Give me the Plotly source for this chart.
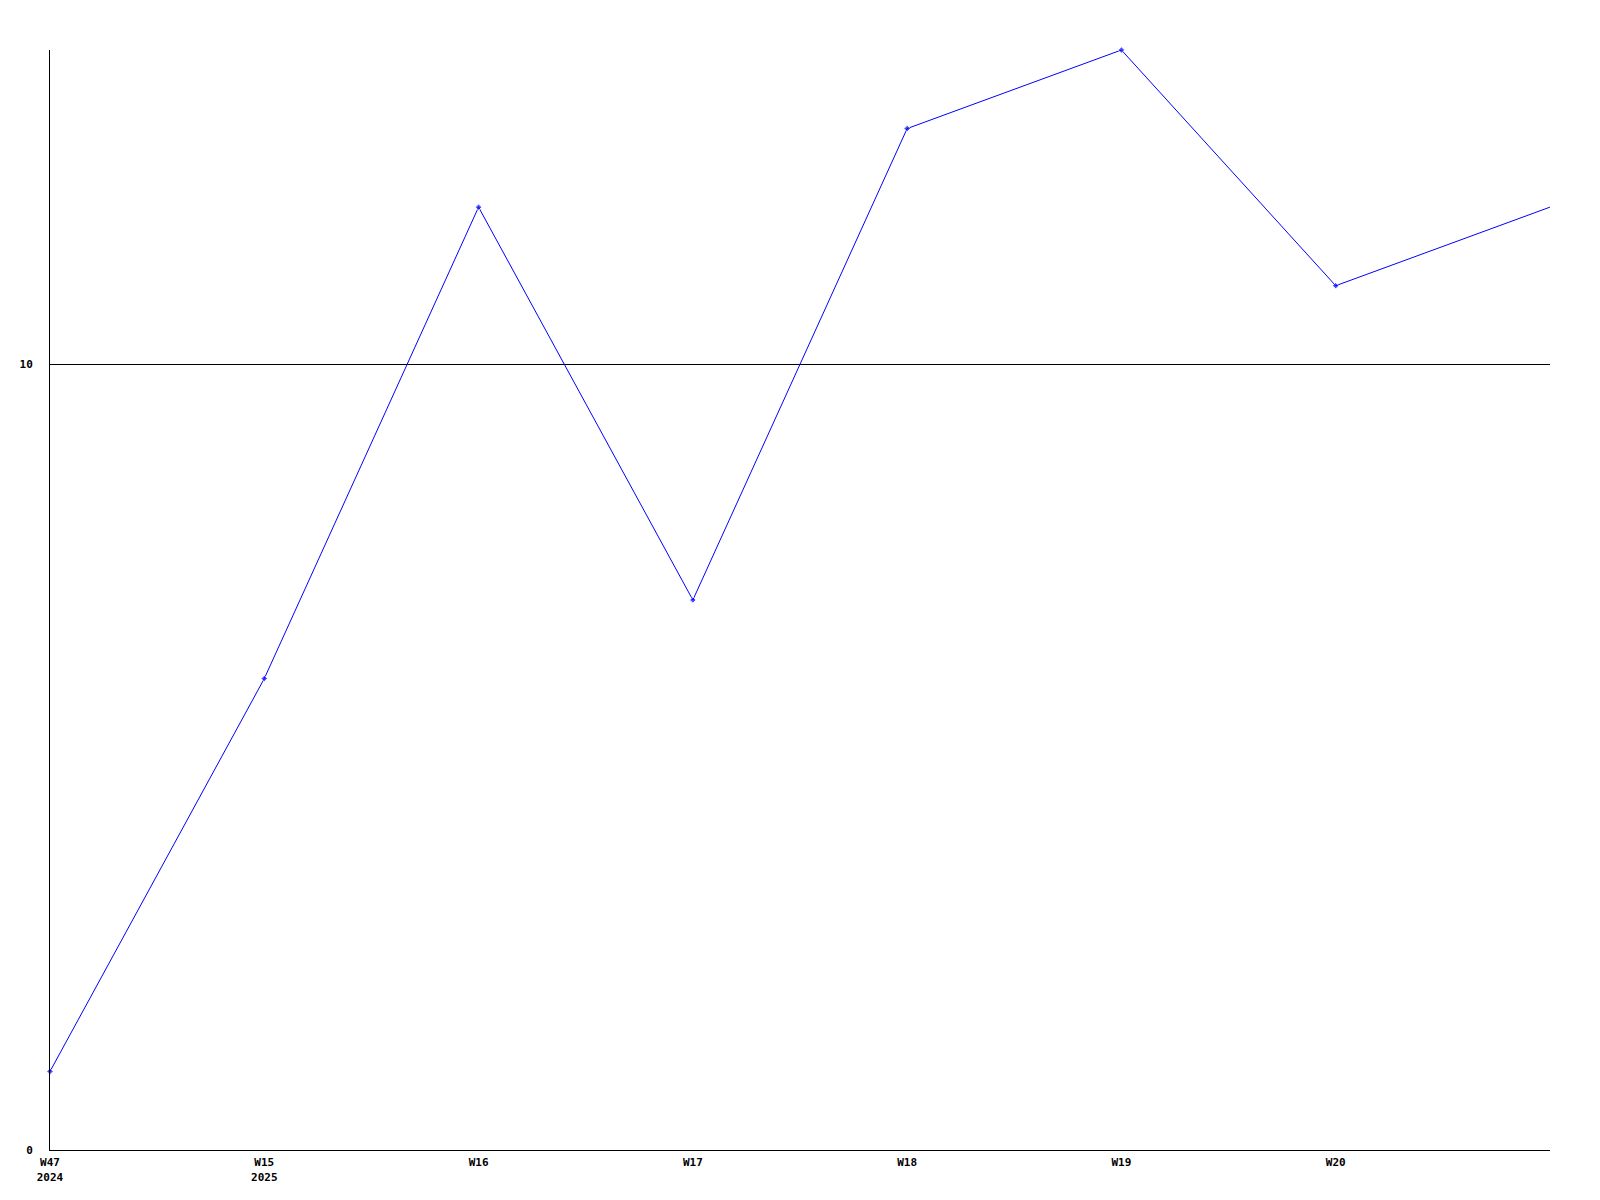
import plotly.graph_objects as go

weeks = ["W47 2024", "W15 2025", "W16", "W17", "W18", "W19", "W20", "W21"]
tick_labels = ["W47<br>2024", "W15<br>2025", "W16", "W17", "W18", "W19", "W20"]
values = [1, 6, 12, 7, 13, 14, 11, 12]
marker_sizes = [5, 5, 5, 5, 5, 5, 5, 0]

fig = go.Figure()
fig.add_trace(go.Scatter(
    x=weeks, y=values, mode="lines+markers",
    line=dict(color="#0000ff", width=1),
    marker=dict(symbol="diamond", size=marker_sizes, color="#0000ff"),
    cliponaxis=False,
    showlegend=False,
))

fig.update_layout(
    width=1600, height=1200,
    margin=dict(l=42, r=58, t=42, b=58),
    paper_bgcolor="white", plot_bgcolor="white",
    font=dict(family="DejaVu Sans Mono", size=11, color="black", weight="bold"),
)
fig.update_xaxes(
    type="category", range=[0, 7],
    tickmode="array", tickvals=weeks[:7], ticktext=tick_labels,
    showgrid=False, zeroline=False,
    showline=True, linecolor="black", linewidth=1,
    ticks="", ticklabelstandoff=2,
    tickfont=dict(family="DejaVu Sans Mono", size=11, color="black", weight="bold"),
)
fig.update_yaxes(
    range=[0, 14], tickvals=[0, 10], ticktext=["0", "10"],
    showgrid=True, gridcolor="black", gridwidth=1,
    zeroline=False,
    showline=True, linecolor="black", linewidth=1,
    ticks="", ticklabelstandoff=14,
    tickfont=dict(family="DejaVu Sans Mono", size=11, color="black", weight="bold"),
)

fig.write_html("out.html")
